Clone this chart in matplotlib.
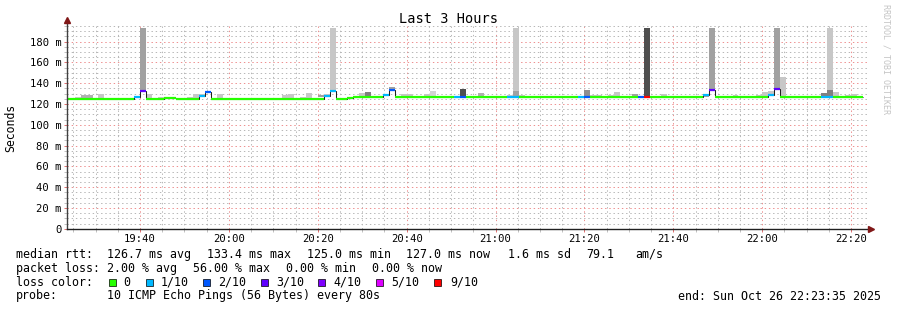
import pandas as pd
import matplotlib
matplotlib.use("Agg")
import matplotlib.pyplot as plt
import matplotlib.dates as mdates
from matplotlib.patches import Rectangle
from matplotlib.ticker import MultipleLocator, FuncFormatter

plt.rcParams['font.family'] = ['DejaVu Sans Mono', 'DejaVu Sans']

# time axis: 80 s steps counted from 19:40:00
step0 = pd.Timestamp("2025-10-26 19:40:00")
step_len = pd.Timedelta(seconds=80)
t_start = pd.Timestamp("2025-10-26 19:23:35")
t_end = pd.Timestamp("2025-10-26 22:23:35")

# median rtt as runs: first step of each run, value (ms) and lost pings (of 10)
med_start = [-13, -1, 0, 1, 4, 6, 10, 11, 12, 31, 32, 33, 35, 36, 41, 42, 43, 53,
             54, 55, 62, 64, 74, 75, 76, 84, 85, 86, 95, 96, 97, 106, 107, 108, 115, 117]
med_end = 122
med_ms = [125.1, 127.0, 132.5, 125.1, 126.1, 125.1, 128.0, 131.6, 125.1, 127.7, 132.8, 124.8,
          125.8, 127.0, 129.0, 133.5, 127.0, 127.0, 127.0, 127.0, 127.0, 127.0, 127.0, 127.0,
          127.0, 127.0, 127.0, 127.0, 129.0, 133.0, 127.0, 129.0, 134.0, 127.0, 127.0, 127.0]
med_loss = [0, 1, 3, 0, 0, 0, 1, 2, 0, 1, 1, 0, 0, 0, 1, 2, 0, 1,
            2, 0, 1, 0, 1, 2, 0, 2, 9, 0, 1, 3, 0, 1, 3, 0, 1, 0]

# smoke bands: step, low ping, high ping (ms), density
smoke_step = [-11, -10, -9, -7, 0, 1, 3, 8, 9, 10, 13, 24, 25, 27, 28, 30, 31, 32, 37, 38,
              41, 42, 44, 45, 48, 49, 54, 57, 62, 63, 63, 64, 75, 76, 77, 79, 80, 82, 83, 85,
              88, 95, 96, 100, 104, 105, 106, 107, 108, 115, 116, 116, 117, 119, 120]
smoke_lo = [125.0, 125.0, 125.0, 125.0, 133.0, 125.0, 125.0, 125.0, 125.0, 128.0, 125.0,
            125.0, 125.0, 125.0, 125.0, 126.5, 127.7, 133.0, 128.0, 128.0, 129.0, 133.5,
            127.0, 127.0, 127.0, 127.0, 127.0, 127.0, 127.0, 132.0, 127.0, 127.0, 127.0,
            127.0, 127.0, 127.0, 127.0, 127.0, 127.0, 127.0, 127.0, 127.0, 133.0, 127.0,
            127.0, 127.0, 129.0, 134.0, 127.0, 127.0, 127.0, 133.0, 127.0, 127.0, 127.0]
smoke_hi = [127.0, 128.4, 128.4, 130.0, 193.0, 130.0, 126.5, 126.5, 130.0, 130.0, 130.0,
            128.4, 129.5, 127.0, 130.5, 129.0, 130.0, 193.0, 130.6, 131.6, 130.0, 136.7,
            130.0, 130.0, 130.0, 132.0, 134.5, 131.0, 128.5, 193.0, 132.0, 128.5, 133.5,
            128.5, 128.5, 129.0, 131.5, 128.0, 129.5, 193.0, 129.5, 129.0, 193.0, 128.5,
            128.5, 131.5, 132.0, 193.0, 145.7, 131.0, 133.0, 193.0, 131.5, 128.5, 129.5]
smoke_density = [0.20, 0.31, 0.31, 0.22, 0.37, 0.22, 0.22, 0.22, 0.22, 0.22, 0.22,
                 0.22, 0.22, 0.22, 0.22, 0.37, 0.22, 0.22, 0.22, 0.50, 0.22, 0.37,
                 0.22, 0.22, 0.22, 0.17, 0.69, 0.31, 0.22, 0.22, 0.37, 0.22, 0.44,
                 0.22, 0.22, 0.22, 0.22, 0.22, 0.37, 0.69, 0.22, 0.37, 0.37, 0.22,
                 0.22, 0.22, 0.22, 0.37, 0.22, 0.50, 0.50, 0.22, 0.22, 0.22, 0.22]

loss_levels = [0, 1, 2, 3, 4, 5, 9]
loss_names = ["0", "1/10", "2/10", "3/10", "4/10", "5/10", "9/10"]
loss_colors = ['#26ff00', '#00b8ff', '#0059ff', '#5e00ff', '#7e00ff', '#dd00ff', '#ff0000']

rtt_stats = ["126.7 ms avg", "133.4 ms max", "125.0 ms min", "127.0 ms now", "1.6 ms sd", "79.1", "am/s"]
loss_stats = ["2.00 % avg", "56.00 % max", "0.00 % min", "0.00 % now"]
probe_text = "10 ICMP Echo Pings (56 Bytes) every 80s"
end_text = "end: Sun Oct 26 22:23:35 2025"


def step_x(k):
    return mdates.date2num(step0 + k * step_len)


W, H = 897, 310
fig = plt.figure(figsize=(W / 100, H / 100), dpi=100)
ax = fig.add_axes([67 / W, 1 - 228.7 / H, 800 / W, 202.7 / H])

# smoke
width = 80 / 86400
ax.bar([step_x(k) for k in smoke_step],
       [h - l for l, h in zip(smoke_lo, smoke_hi)],
       bottom=smoke_lo, width=width, align='edge', linewidth=0,
       color=[str(round(1 - d, 3)) for d in smoke_density], zorder=1)

# median line: thin dark step line, loss coloured runs on top
edges = [step_x(k) for k in med_start + [med_end]]
ax.stairs(med_ms, edges, baseline=None, color='#202020', linewidth=0.75, zorder=2)
color_of = dict(zip(loss_levels, loss_colors))
ax.hlines(med_ms, edges[:-1], edges[1:], colors=[color_of[l] for l in med_loss],
          linewidth=1.6, capstyle='butt', zorder=3)

ax.set_xlim(mdates.date2num(t_start), mdates.date2num(t_end))
ax.set_ylim(0, 195)
ax.xaxis.set_major_locator(mdates.MinuteLocator(byminute=[0, 20, 40]))
ax.xaxis.set_minor_locator(mdates.MinuteLocator(byminute=range(0, 60, 5)))
ax.xaxis.set_major_formatter(mdates.DateFormatter('%H:%M'))
ax.yaxis.set_major_locator(MultipleLocator(20))
ax.yaxis.set_minor_locator(MultipleLocator(5))
ax.yaxis.set_major_formatter(FuncFormatter(lambda v, p: "0" if v == 0 else f"{v:.0f} m"))

ax.set_axisbelow(True)
ax.grid(which='major', color='#ee9090', linestyle=(0, (1.4, 2.8)), linewidth=0.72)
ax.grid(which='minor', color='#b8b8b8', linestyle=(0, (1.4, 2.8)), linewidth=0.72)
ax.tick_params(which='major', length=2, width=0.7, color='#e07070', labelsize=7.6, pad=2)
ax.tick_params(which='minor', length=2, width=0.7, color='#c0c0c0')
for s in ax.spines.values():
    s.set_visible(False)

# axes with arrows
ax.plot([0, 0], [0, 1.03], color='#404040', lw=1, transform=ax.transAxes, clip_on=False, zorder=5)
ax.plot([0, 1.005], [0, 0], color='#202020', lw=1, transform=ax.transAxes, clip_on=False, zorder=5)
ax.plot([0], [1.03], marker='^', ms=4.5, color='#801818', transform=ax.transAxes, clip_on=False, zorder=6)
ax.plot([1.005], [0], marker='>', ms=4.5, color='#801818', transform=ax.transAxes, clip_on=False, zorder=6)


def px_text(x, y, s, **kw):
    kw.setdefault('fontsize', 8.4)
    fig.text(x / W, 1 - y / H, s, va='center', ha='left', **kw)


fig.text(448 / W, 1 - 19 / H, "Last 3 Hours", ha='center', va='center', fontsize=9.8)
fig.text(11 / W, 1 - 128 / H, "Seconds", ha='center', va='center', rotation=90, fontsize=8.3)
fig.text(886 / W, 1 - 59 / H, "RRDTOOL / TOBI OETIKER", ha='center', va='center',
         rotation=270, fontsize=6, color='#c4c4c4')

px_text(16, 254.3, "median rtt:")
for x, s in zip([107.3, 207.3, 307.3, 405.7, 507.7, 586.7, 635], rtt_stats):
    px_text(x, 254.3, s)
px_text(16, 268.3, "packet loss:")
for x, s in zip([107.3, 193.3, 286, 372.3], loss_stats):
    px_text(x, 268.3, s)
px_text(16, 282.3, "loss color:")
box_x = [109, 145.7, 203.3, 261, 318.3, 376, 434]
label_x = [123.3, 161, 218.3, 276, 333.3, 391, 450]
for bx, lx, c, name in zip(box_x, label_x, loss_colors, loss_names):
    fig.patches.append(Rectangle((bx / W, 1 - 286 / H), 7 / W, 7 / H, facecolor=c,
                                 edgecolor='black', linewidth=0.5, transform=fig.transFigure))
    px_text(lx, 282.3, name)
px_text(16, 296, "probe:")
px_text(107.3, 296, probe_text)
px_text(678.3, 296, end_text)

fig.savefig("out.png", dpi=100)
